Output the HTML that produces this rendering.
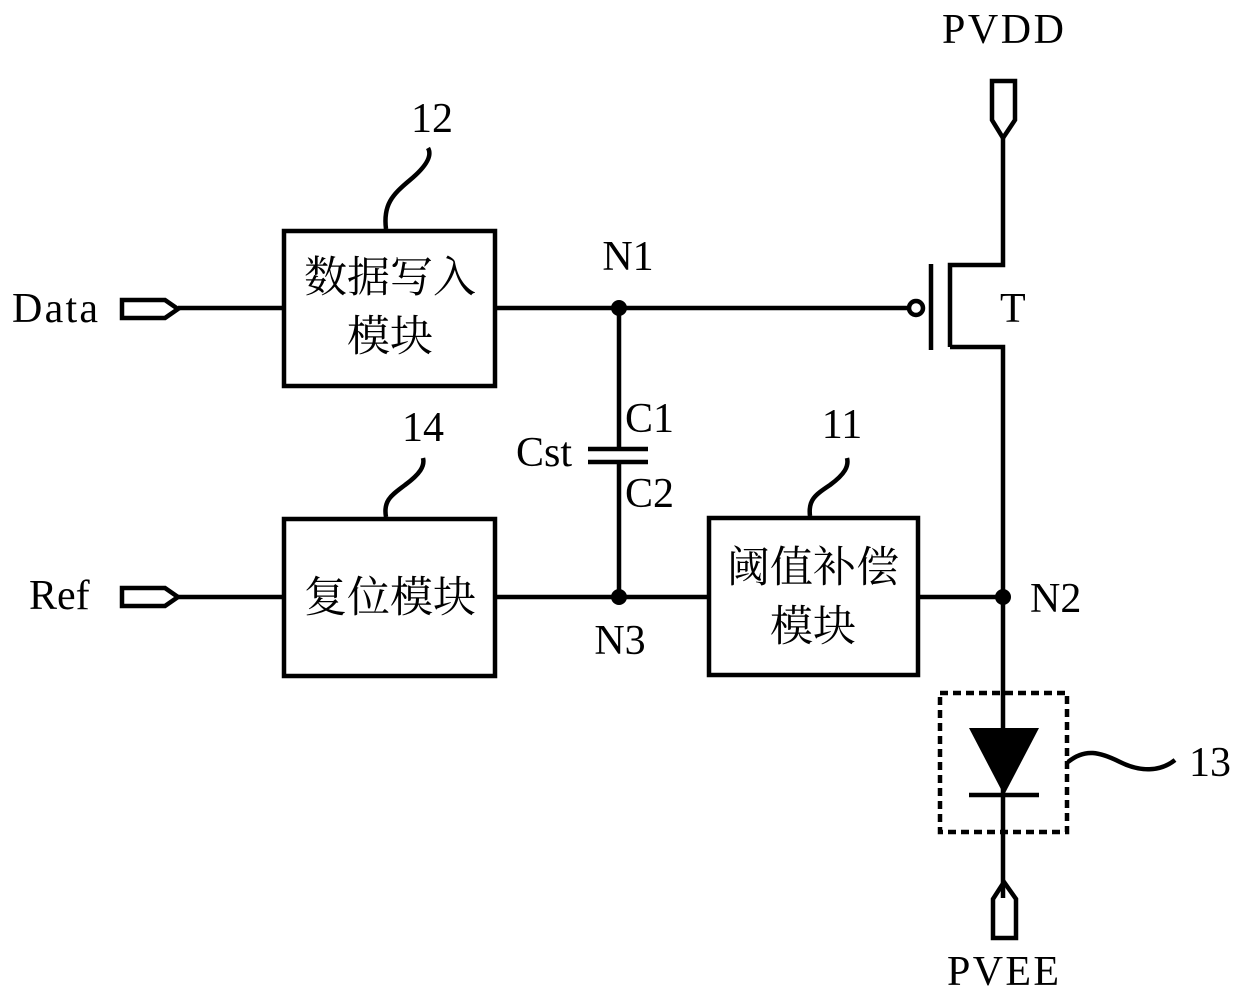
<!DOCTYPE html>
<html><head><meta charset="utf-8"><style>
html,body{margin:0;padding:0;background:#fff}
svg{display:block}
.t{font-family:"Liberation Serif",serif;font-size:42px;fill:#000}
.c{font-family:"Liberation Serif","Noto Serif CJK SC",serif;font-size:43px;fill:#000}
</style></head><body>
<svg width="1240" height="1001" viewBox="0 0 1240 1001" xmlns="http://www.w3.org/2000/svg">
<g fill="none" stroke="#000" stroke-width="4.5">
<rect x="284" y="231" width="211" height="155"/>
<rect x="284" y="519" width="211" height="157"/>
<rect x="709" y="518" width="209" height="157"/>
<path d="M122 300 H165 L178 309 L165 318 H122 Z"/>
<line x1="178" y1="308" x2="284" y2="308"/>
<path d="M122 588 H165 L178 597 L165 606 H122 Z"/>
<line x1="178" y1="597" x2="284" y2="597"/>
<line x1="495" y1="308" x2="909" y2="308"/>
<circle cx="916" cy="308" r="7"/>
<line x1="931" y1="264" x2="931" y2="350"/>
<path d="M950 347 V265 H1003 V138"/>
<path d="M950 347 H1003 V898"/>
<path d="M992 81 H1015 V120 L1003 138 L992 120 Z"/>
<path d="M993 938 H1016 V899 L1004 882 L993 899 Z"/>
<line x1="619" y1="308" x2="619" y2="449"/>
<line x1="588" y1="449" x2="648" y2="449"/>
<line x1="588" y1="462" x2="648" y2="462"/>
<line x1="619" y1="462" x2="619" y2="597"/>
<line x1="495" y1="597" x2="709" y2="597"/>
<line x1="918" y1="597" x2="1003" y2="597"/>
<line x1="969" y1="795" x2="1039" y2="795"/>
<rect x="940" y="693" width="127" height="139" stroke-dasharray="8,5"/>
<path d="M386 229 C383 205,392 195,410 180 C428 165,432 155,428 148" />
<path d="M386 517 C383 500,392 495,405 485 C420 474,425 466,423 458"/>
<path d="M810 516 C808 500,815 495,830 485 C845 474,849 466,847 458"/>
<path d="M1068 762 C1085 748,1100 752,1120 762 C1140 772,1160 772,1175 760"/>
</g>
<polygon points="969,728 1039,728 1004,795" fill="#000"/>
<circle cx="619" cy="308" r="8" fill="#000"/>
<circle cx="619" cy="597" r="8" fill="#000"/>
<circle cx="1003" cy="597" r="8" fill="#000"/>
<text class="t" x="1003" y="43" text-anchor="middle" textLength="122">PVDD</text>
<text class="t" x="1003" y="985" text-anchor="middle" textLength="112">PVEE</text>
<text class="t" x="432" y="132" text-anchor="middle">12</text>
<text class="t" x="423" y="441" text-anchor="middle">14</text>
<text class="t" x="842" y="438" text-anchor="middle">11</text>
<text class="t" x="1210" y="776" text-anchor="middle">13</text>
<text class="t" x="12" y="322" textLength="86">Data</text>
<text class="t" x="29" y="609">Ref</text>
<text class="t" x="628" y="270" text-anchor="middle">N1</text>
<text class="t" x="620" y="654" text-anchor="middle">N3</text>
<text class="t" x="1030" y="612">N2</text>
<text class="t" x="1000" y="322">T</text>
<text class="t" x="516" y="466">Cst</text>
<text class="t" x="625" y="432">C1</text>
<text class="t" x="625" y="507">C2</text>
<text class="c" x="390" y="292" text-anchor="middle">数据写入</text>
<text class="c" x="390" y="351" text-anchor="middle">模块</text>
<text class="c" x="390" y="612" text-anchor="middle">复位模块</text>
<text class="c" x="813" y="582" text-anchor="middle">阈值补偿</text>
<text class="c" x="813" y="641" text-anchor="middle">模块</text>
</svg>
</body></html>
